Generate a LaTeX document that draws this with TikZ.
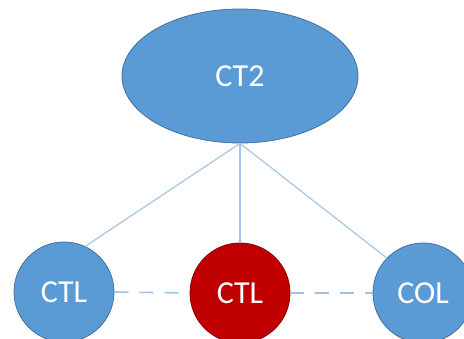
\documentclass[tikz,border=0pt]{standalone}
\usepackage{fontspec}
\setmainfont{Carlito}
\usetikzlibrary{shapes.geometric}
\definecolor{azul}{RGB}{91,155,213}
\definecolor{borde}{RGB}{65,113,156}
\definecolor{rojo}{RGB}{192,0,0}
\definecolor{bordero}{RGB}{140,0,0}
\definecolor{linea}{RGB}{157,195,230}
\tikzset{
  nodo/.style={circle, draw=borde, fill=azul, line width=0.8pt, minimum size=100pt,
    text=white, font=\fontsize{32}{38}\selectfont},
  enlace/.style={draw=linea, line width=1.1pt},
  punteado/.style={enlace, line width=1.6pt, dash pattern=on 14pt off 11pt}
}
\begin{document}
\begin{tikzpicture}[x=1pt,y=-1pt]
  \useasboundingbox (0,0) rectangle (464,339);
  % Nodos
  \node[nodo, ellipse, minimum width=236pt, minimum height=134pt] (ct2) at (240,76) {CT2};
  \node[nodo] (izq) at (64,292) {CTL};
  \node[nodo, fill=rojo, draw=bordero] (centro) at (240,293) {CTL};
  \node[nodo] (der) at (423,293) {COL};

  \draw[enlace] (ct2.south) -- (izq.65);
  \draw[enlace] (ct2.south) -- (centro.north);
  \draw[enlace] (ct2.south) -- (der.136);
  \draw[punteado] (izq.east) -- (centro.west);
  \draw[punteado] (centro.east) -- (der.west);
\end{tikzpicture}
\end{document}
